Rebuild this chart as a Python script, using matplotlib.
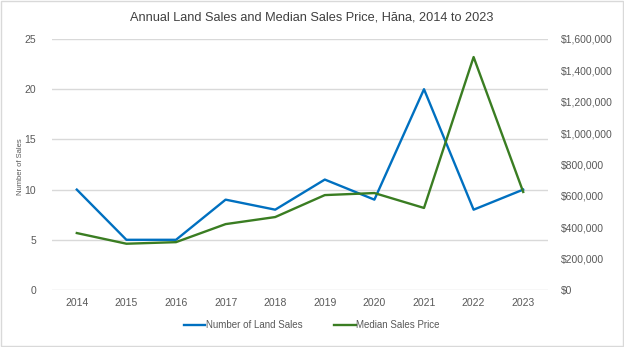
import matplotlib.pyplot as plt
import matplotlib.ticker as ticker

plt.rcParams['font.family'] = ['Liberation Sans', 'DejaVu Sans']

years = ['2014', '2015', '2016', '2017', '2018', '2019', '2020', '2021', '2022', '2023']
land_sales = [10, 5, 5, 9, 8, 11, 9, 20, 8, 10]
median_price = [363000, 295000, 305000, 420000, 465000, 605000, 618000, 523000, 1485000, 625000]

blue = '#0070c0'
green = '#3a7d22'
txt = '#595959'

fig = plt.figure(figsize=(6.24, 3.47), dpi=100)
ax = fig.add_axes([52 / 624, 57 / 347, 496 / 624, 251 / 347])
ax2 = ax.twinx()

x = list(range(len(years)))
l1, = ax.plot(x, land_sales, color=blue, lw=1.7, label='Number of Land Sales')
l2, = ax2.plot(x, median_price, color=green, lw=1.7, label='Median Sales Price')

ax.set_xlim(-0.5, len(years) - 0.5)
ax.set_ylim(0, 25)
ax2.set_ylim(0, 1600000)
ax.yaxis.set_major_locator(ticker.MultipleLocator(5))
ax2.yaxis.set_major_locator(ticker.MultipleLocator(200000))
ax2.yaxis.set_major_formatter(ticker.FuncFormatter(lambda v, p: f'${v:,.0f}'))
ax.set_xticks(x)
ax.set_xticklabels(years)

ax.grid(axis='y', color='#d9d9d9', lw=1)
ax.set_axisbelow(True)
for a in (ax, ax2):
    for s in a.spines.values():
        s.set_visible(False)
    a.tick_params(length=0, labelsize=7.5, colors=txt)
ax.tick_params(axis='y', pad=11.5)
ax.tick_params(axis='x', pad=6)
ax2.tick_params(axis='y', pad=9)

ax.set_ylabel('Number of Sales', fontsize=5.5, color=txt)
ax.yaxis.set_label_coords(-0.056, 0.49)
fig.text(0.5, 0.95, 'Annual Land Sales and Median Sales Price, Hāna, 2014 to 2023',
         ha='center', va='center', fontsize=9.2, color='#404040')
fig.legend(handles=[l1, l2], loc='center', bbox_to_anchor=(0.5, 0.063), ncol=2,
           frameon=False, fontsize=7, labelcolor=txt, handlelength=2.2,
           handletextpad=0.1, columnspacing=3.2)

fig.patches.append(plt.Rectangle((0.002, 0.003), 0.996, 0.994, transform=fig.transFigure,
                                 fill=False, edgecolor='#d9d9d9', lw=1))

fig.savefig('out.png', dpi=100)
